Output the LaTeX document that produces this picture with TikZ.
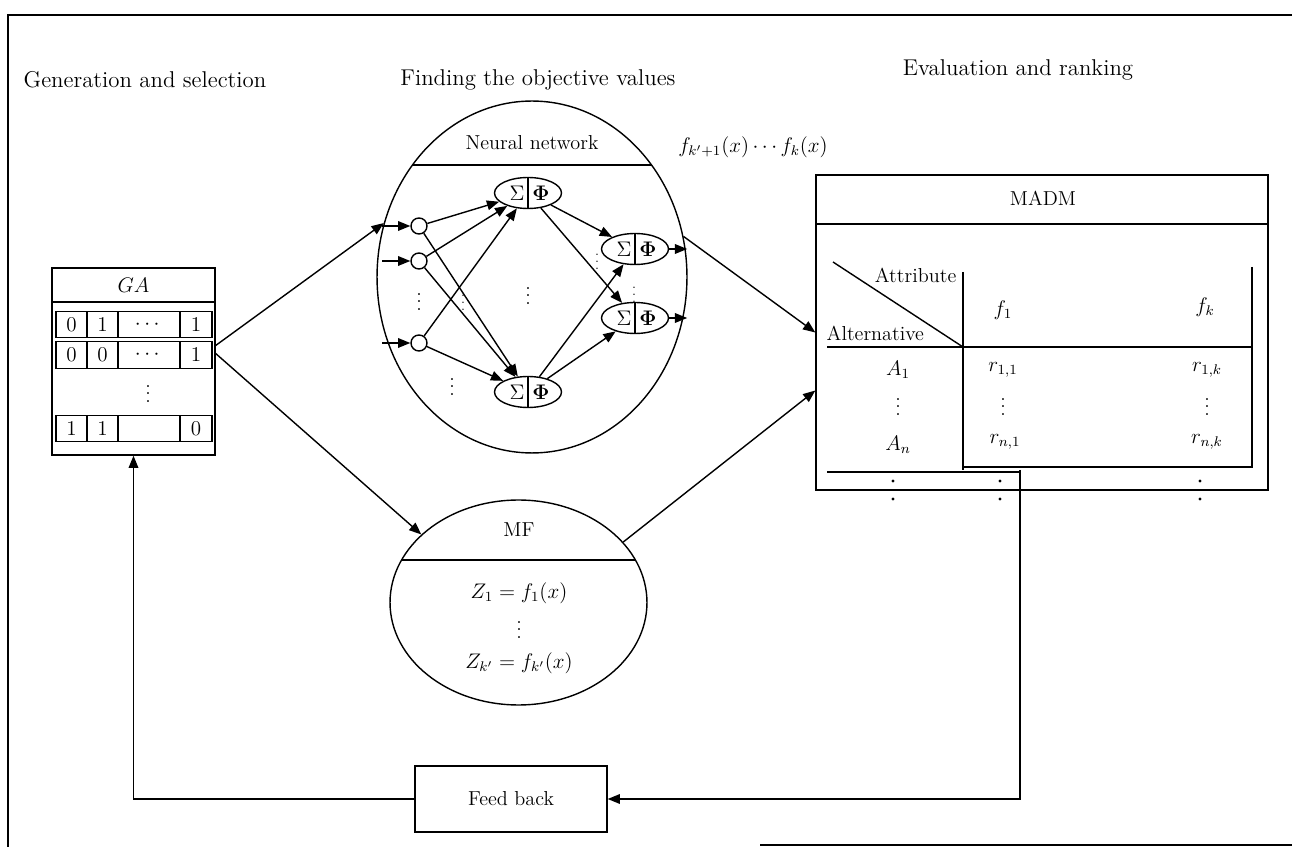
\documentclass[tikz,border=0pt]{standalone}
\usepackage{amsmath,amssymb}
\usetikzlibrary{arrows.meta,positioning,shapes.geometric,calc}
\newcommand{\vdts}{\vbox{\baselineskip4pt\lineskiplimit0pt\hbox{.}\hbox{.}\hbox{.}}}

\begin{document}
\begin{tikzpicture}[x=0.02cm,y=-0.02cm,font=\fontsize{11.5}{13}\selectfont,line width=0.8pt,
  arr/.style={-{Triangle[length=7pt,width=5.5pt]}},
  box/.style={draw,rectangle,inner sep=0pt},
  cell/.style={draw,rectangle,minimum height=0.53cm,inner sep=0pt,outer sep=0pt},
  neuron/.style={draw,ellipse,minimum width=1.34cm,minimum height=0.62cm,inner sep=0pt},
  unit/.style={draw,circle,minimum size=0.32cm,inner sep=0pt},
  tight/.style={inner sep=0pt},
  title/.style={font=\fontsize{13}{15}\selectfont}]
\useasboundingbox (0,0) rectangle (1292,847);
\draw[line width=1.2pt] (8,847)--(8,15)--(1292,15);
\draw[line width=1.2pt] (760,845)--(1292,845);
\node[title] (t1) at (145,80) {Generation and selection};
\node[title] (t2) at (538,80) {Finding the objective values};
\node[title] (t3) at (1018,70) {Evaluation and ranking};
\node[box,minimum width=3.26cm,minimum height=3.74cm] (ga) at (133.5,361.5) {};
\draw (52,302)--(215,302);
\node (galab) at (133.5,285) {$GA$};
\foreach \y/\a/\b/\c/\d [count=\i] in {324.5/0/1/\cdots/1,355/0/0/\cdots/1,428.5/1/1//0}{
  \node[cell,minimum width=0.62cm] (g\i-a) at (71.5,\y) {$\a$};
  \node[cell,minimum width=0.62cm,right=0pt of g\i-a] (g\i-b) {$\b$};
  \node[cell,minimum width=1.24cm,right=0pt of g\i-b] (g\i-c) {$\c$};
  \node[cell,minimum width=0.64cm,right=0pt of g\i-c] (g\i-d) {$\d$};
}
\node[tight] (gadots) at (148,394) {\vdts};
\node[draw,ellipse,minimum width=6.2cm,minimum height=7.04cm,inner sep=0pt] (nn) at (532,277) {};
\draw (412.4,165)--(651.6,165);
\node (nnlab) at (532,143) {Neural network};
\node[unit] (c1) at (419,226) {};
\node[unit] (c2) at (419,261) {};
\node[unit] (c3) at (419,343) {};
\node[neuron] (h1) at (528,193) {};
\node[neuron] (h2) at (528,392) {};
\node[neuron] (o1) at (635,249) {};
\node[neuron] (o2) at (635,318) {};
\foreach \n in {h1,h2,o1,o2}{
  \draw (\n.north)--(\n.south);
  \node[tight] (\n-s) at ($(\n.center)+(-11,0)$) {$\Sigma$};
  \node[tight] (\n-p) at ($(\n.center)+(13,0)$) {$\mathbf{\Phi}$};
}
\foreach \a in {c1,c2,c3}{\foreach \b in {h1,h2}{\draw[arr] (\a)--(\b);}}
\foreach \a in {h1,h2}{\foreach \b in {o1,o2}{\draw[arr] (\a)--(\b);}}
\foreach \a in {c1,c2,c3}{\draw[arr] ($(\a.west)+(-28,0)$)--(\a.west);}
\foreach \a in {o1,o2}{\draw[arr] (\a.east)--++(18,0);}
\node[tight] (nd1) at (419,302) {\vdts};
\node[tight] (nd2) at (528,296) {\vdts};
\node[tight] (nd3) at (452,387) {\vdts};
\node[tight,font=\scriptsize] (nd4) at (463,303) {\vdts};
\node[tight,font=\scriptsize] (nd5) at (597,262) {\vdts};
\node[tight,font=\scriptsize] (nd6) at (634,295) {\vdts};
\node (flab) at (753,147) {$f_{k'+1}(x)\cdots f_k(x)$};
\node[draw,ellipse,minimum width=5.14cm,minimum height=4.1cm,inner sep=0pt] (mf) at (518.5,602.5) {};
\draw (401.6,560)--(635.4,560);
\node (mflab) at (519,530) {MF};
\node[tight] (z1) at (519,593) {$Z_1=f_1(x)$};
\node[tight] (zd) at (519,630) {\vdts};
\node[tight] (zk) at (519,663) {$Z_{k'}=f_{k'}(x)$};
\node[box,minimum width=9.04cm,minimum height=6.3cm] (madm) at (1042,332.5) {};
\draw (816,224)--(1268,224);
\node (madmlab) at (1043,198) {MADM};
\draw (833,262)--(963,347);
\draw (963,272)--(963,470);
\draw (827,347)--(1252,347);
\draw (1252,267)--(1252,467)--(963,467);
\draw (827,472)--(1020,472);
\node[anchor=east,tight] (attr) at (957,275) {Attribute};
\node[anchor=west,tight] (alt) at (826,333) {Alternative};
\node (f1) at (1003,310) {$f_1$};
\node (fk) at (1205,307) {$f_k$};
\node[tight] (a1) at (898,370) {$A_1$};
\node[tight] (ad) at (898,407) {\vdts};
\node[tight] (an) at (898,445) {$A_n$};
\node[tight] (r11) at (1003,370) {$r_{1,1}$};
\node[tight] (r1d) at (1003,407) {\vdts};
\node[tight] (rn1) at (1005,442) {$r_{n,1}$};
\node[tight] (r1k) at (1207,370) {$r_{1,k}$};
\node[tight] (rkd) at (1207,407) {\vdts};
\node[tight] (rnk) at (1207,442) {$r_{n,k}$};
\foreach \x in {893,1000,1200}{\fill (\x,481) circle (0.9pt) (\x,499) circle (0.9pt);}
\node[box,minimum width=3.84cm,minimum height=1.32cm] (fb) at (511,799) {Feed back};
\draw[arr] ($(ga.east)+(0,-16)$)--(nn.160);
\draw[arr] ($(ga.east)+(0,-8)$)--(mf.145);
\draw[arr] (nn.15)--(madm.west);
\draw[arr] (mf.30)--($(madm.west)+(0,58)$);
\coordinate (tabout) at (1020,470);
\draw[arr] (tabout) |- (fb.east);
\draw[arr] (fb.west) -| (ga.south);
\end{tikzpicture}
\end{document}
